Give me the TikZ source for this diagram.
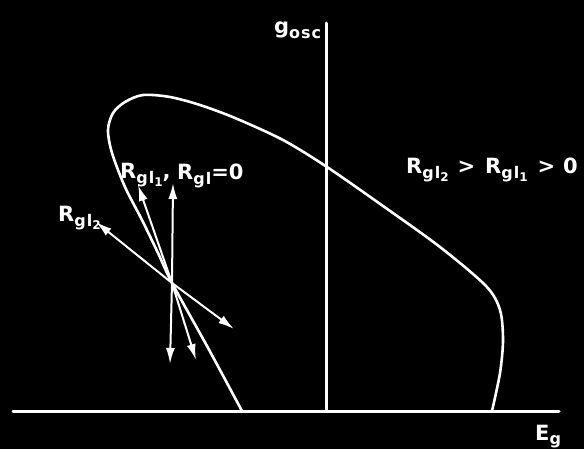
\documentclass[tikz,border=0pt]{standalone}
\usepackage{fontspec}
\newfontfamily\hand{DejaVu Sans}
\usetikzlibrary{arrows.meta}
% hand lettered subscripts
\newcommand{\lo}[1]{\raisebox{-0.4ex}{\fontsize{16}{16}\selectfont\addfontfeatures{LetterSpace=6}#1}}
\newcommand{\loo}[1]{\raisebox{-0.35ex}{\fontsize{12}{12}\selectfont #1}}

\begin{document}
\begin{tikzpicture}[x=1pt, y=-1pt, line cap=round,
  axis/.style={white, line width=3pt},
  loop/.style={white, line width=2.6pt},
  vec/.style={white, line width=2pt, -{Latex[length=16pt,width=9pt]}},
  lbl/.style={white, inner sep=0pt, anchor=base west, font=\hand\bfseries\fontsize{21}{24}\selectfont}]
  \fill[black] (0,0) rectangle (584,449);
  % axes
  \coordinate (o) at (326,411);
  \coordinate (xl) at (13,411);
  \coordinate (xr) at (559,411);
  \coordinate (yt) at (326,23);
  \draw[axis] (xl) -- (xr);
  \draw[axis] (o) -- (yt);
  \node[lbl] (gosc) at (274,34) {g\lo{osc}};
  \node[lbl] (eg) at (535,440) {E\lo{g}};
  % oscillation boundary
  \draw[loop] plot[smooth, tension=0.5] coordinates {(242,411) (207,346) (172,283) (158,253)
    (142,220) (125,187) (112,153) (108,130) (113,113) (125,102) (143,95) (170,97) (200,105)
    (235,118) (283,140) (327,167) (383,206) (440,247) (486,286) (500,310)
    (503,340) (500,373) (492,411)};
  % grid leak directions
  \coordinate (p) at (172,283);
  \coordinate (up0) at (173,183);
  \coordinate (dn0) at (170,364);
  \coordinate (up1) at (138,185);
  \coordinate (dn1) at (196,360);
  \coordinate (up2) at (96,222);
  \coordinate (dn2) at (234,329);
  \foreach \e in {up0,dn0,up1,dn1,up2,dn2}
    \draw[vec] (p) -- (\e);
  \node[lbl] (rone) at (120,179) {R\lo{gl\loo{1}},};
  \node[lbl] (rzero) at (177,180) {R\lo{gl}=0};
  \node[lbl] (rtwo) at (58,222) {R\lo{gl\loo{2}}};
  \node[lbl] (rel) at (406,174) {R\lo{gl\loo{2}}\hspace{9pt}>\hspace{10pt}R\lo{gl\loo{1}}\hspace{10pt}>\hspace{8pt}0};
\end{tikzpicture}
\end{document}
